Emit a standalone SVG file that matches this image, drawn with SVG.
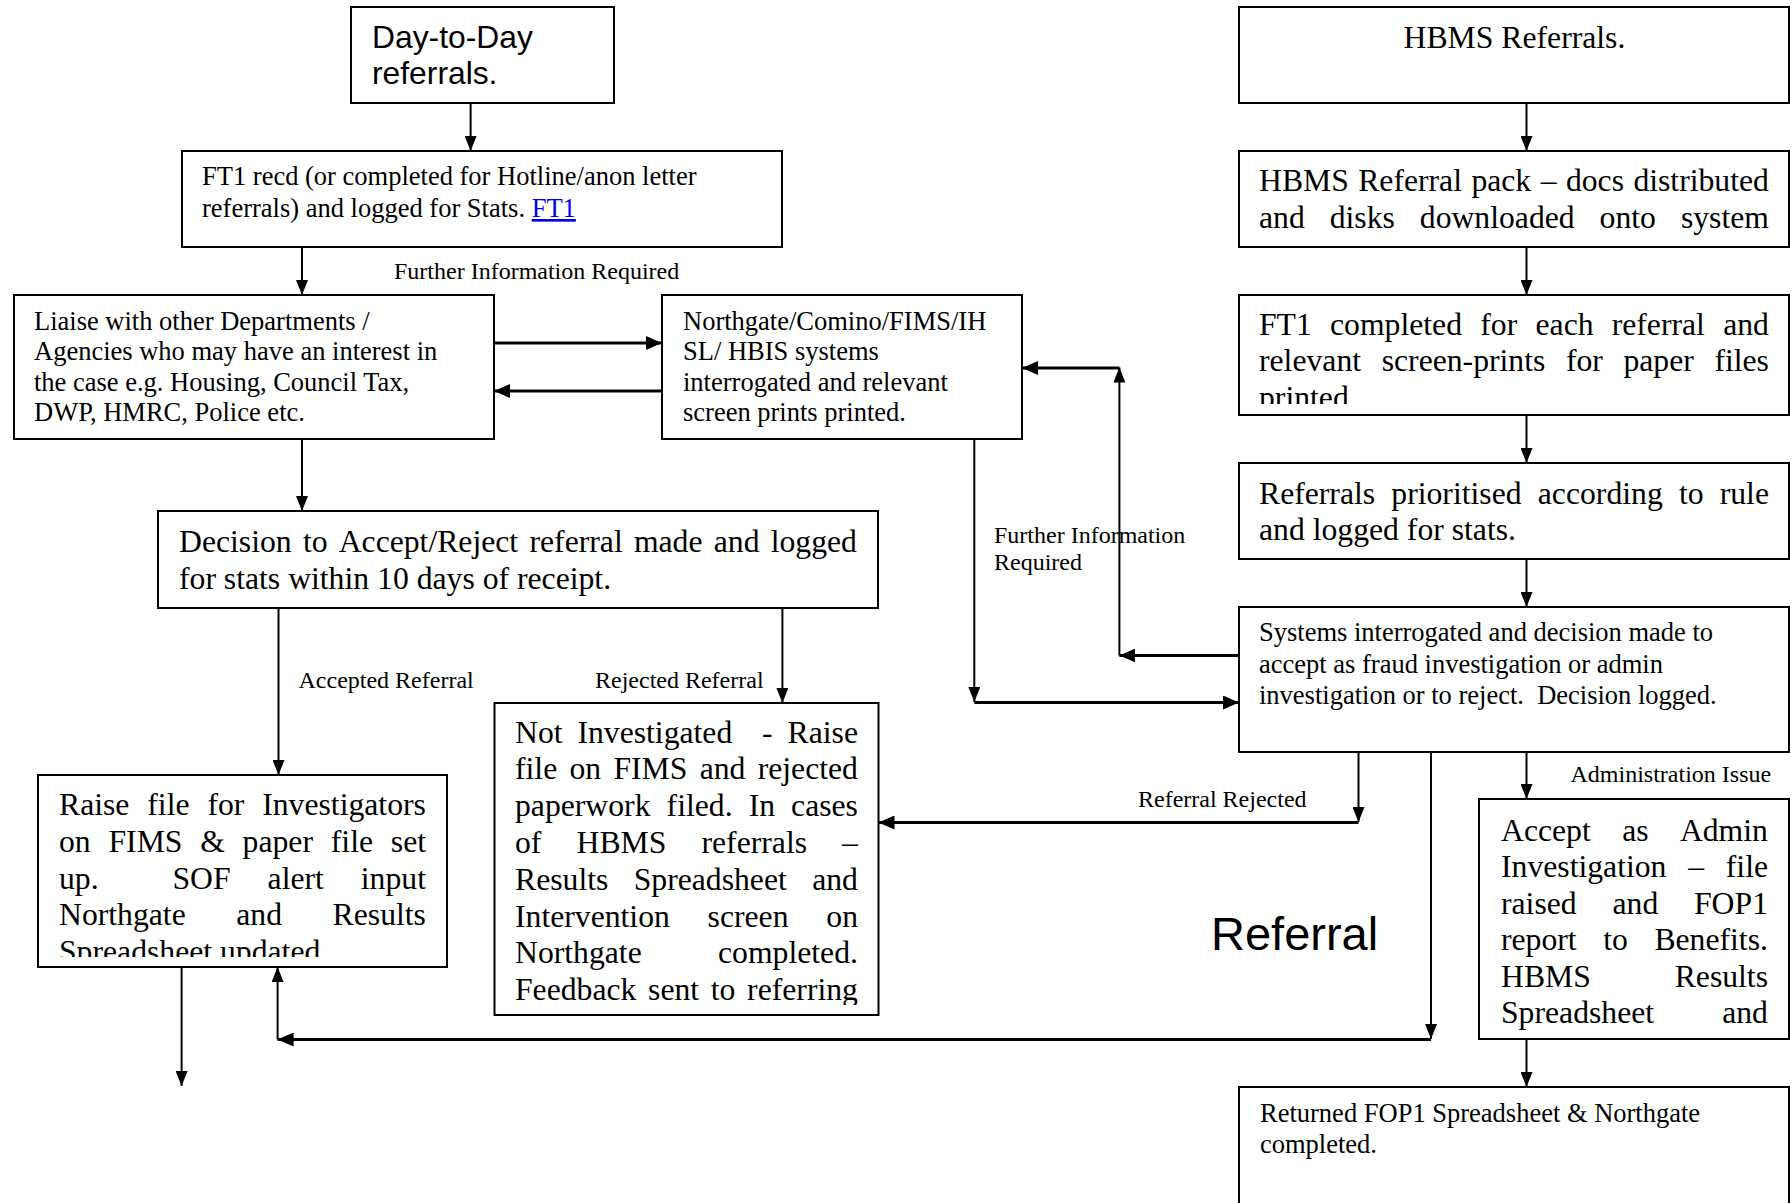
<svg xmlns="http://www.w3.org/2000/svg" width="1791" height="1203" viewBox="0 0 1791 1203">
<style>
.box{fill:#fff;stroke:#000;stroke-width:2}
.t{font-family:"Liberation Serif","Times New Roman",serif;fill:#000}
.big{font-size:31.7px}
.sm{font-size:26.5px}
.lbl{font-size:24px}
.sans{font-family:"Liberation Sans",Arial,sans-serif;fill:#000}
.c{fill:none;stroke:#000;stroke-width:2}
.ct{fill:none;stroke:#000;stroke-width:2.8}
.lnk{fill:#0000ee;text-decoration:underline}
</style>
<defs>
<marker id="ah" viewBox="0 0 15 12" refX="15" refY="6" markerWidth="15" markerHeight="12" markerUnits="userSpaceOnUse" orient="auto"><path d="M0,0 L15,6 L0,12 z" fill="#000"/></marker>
<marker id="aht" viewBox="0 0 16 14" refX="16" refY="7" markerWidth="16" markerHeight="14" markerUnits="userSpaceOnUse" orient="auto"><path d="M0,0 L16,7 L0,14 z" fill="#000"/></marker>
<clipPath id="clipFt1c"><rect x="1239" y="295" width="550" height="109"/></clipPath>
<clipPath id="clipRaise"><rect x="38" y="775" width="409" height="182"/></clipPath>
<clipPath id="clipNot"><rect x="494" y="703" width="384" height="302"/></clipPath>
</defs>

<g id="day">
<rect class="box" x="351" y="7" width="263" height="96"/>
<text class="sans" font-size="31.8" x="372" y="47.5">Day-to-Day</text>
<text class="sans" font-size="31.8" x="372" y="83.5">referrals.</text>
</g>

<g id="ft1recd">
<rect class="box" x="182" y="151" width="600" height="96"/>
<text class="t sm" x="202" y="185">FT1 recd (or completed for Hotline/anon letter</text>
<text class="t sm" x="202" y="217">referrals) and logged for Stats. <tspan class="lnk">FT1</tspan></text>
</g>

<g id="liaise">
<rect class="box" x="14" y="295" width="480" height="144"/>
<text class="t sm" x="34" y="329.5">Liaise with other Departments /</text>
<text class="t sm" x="34" y="360">Agencies who may have an interest in</text>
<text class="t sm" x="34" y="390.5">the case e.g. Housing, Council Tax,</text>
<text class="t sm" x="34" y="421">DWP, HMRC, Police etc.</text>
</g>

<g id="northgate">
<rect class="box" x="662" y="295" width="360" height="144"/>
<text class="t sm" x="683" y="329.5">Northgate/Comino/FIMS/IH</text>
<text class="t sm" x="683" y="360">SL/ HBIS systems</text>
<text class="t sm" x="683" y="390.5">interrogated and relevant</text>
<text class="t sm" x="683" y="421">screen prints printed.</text>
</g>

<g id="decision">
<rect class="box" x="158" y="511" width="720" height="97"/>
<text class="t big" y="552"><tspan x="179">Decision</tspan><tspan x="302.9">to</tspan><tspan x="338.7">Accept/Reject</tspan><tspan x="529.5">referral</tspan><tspan x="633.9">made</tspan><tspan x="713.8">and</tspan><tspan x="770.7">logged</tspan></text>
<text class="t big" x="179" y="588.5">for stats within 10 days of receipt.</text>
</g>

<g id="raise">
<rect class="box" x="38" y="775" width="409" height="192"/>
<g clip-path="url(#clipRaise)">
<text class="t big" y="815"><tspan x="59">Raise</tspan><tspan x="147.3">file</tspan><tspan x="207.4">for</tspan><tspan x="262.2">Investigators</tspan></text>
<text class="t big" y="851.8"><tspan x="59">on</tspan><tspan x="108.5">FIMS</tspan><tspan x="200.2">&amp;</tspan><tspan x="242.6">paper</tspan><tspan x="330.8">file</tspan><tspan x="390.8">set</tspan></text>
<text class="t big" y="888.6"><tspan x="59">up.</tspan><tspan x="172.5">SOF</tspan><tspan x="267.6">alert</tspan><tspan x="360.8">input</tspan></text>
<text class="t big" y="925.4"><tspan x="59">Northgate</tspan><tspan x="236.3">and</tspan><tspan x="332.6">Results</tspan></text>
<text class="t big" x="59" y="962.2">Spreadsheet updated</text>
</g>
</g>

<g id="notinvestigated">
<rect class="box" x="494.5" y="703" width="384" height="312"/>
<g clip-path="url(#clipNot)">
<text class="t big" y="742.5"><tspan x="515">Not</tspan><tspan x="577.4">Investigated</tspan><tspan x="762.1">-</tspan><tspan x="787.6">Raise</tspan></text>
<text class="t big" y="779.3"><tspan x="515">file</tspan><tspan x="569.5">on</tspan><tspan x="613.4">FIMS</tspan><tspan x="699.7">and</tspan><tspan x="757.7">rejected</tspan></text>
<text class="t big" y="816.1"><tspan x="515">paperwork</tspan><tspan x="666.6">filed.</tspan><tspan x="748.7">In</tspan><tspan x="791.1">cases</tspan></text>
<text class="t big" y="852.9"><tspan x="515">of</tspan><tspan x="576.5">HBMS</tspan><tspan x="701.5">referrals</tspan><tspan x="842.1">–</tspan></text>
<text class="t big" y="889.7"><tspan x="515">Results</tspan><tspan x="633.7">Spreadsheet</tspan><tspan x="812.2">and</tspan></text>
<text class="t big" y="926.5"><tspan x="515">Intervention</tspan><tspan x="707.6">screen</tspan><tspan x="826.3">on</tspan></text>
<text class="t big" y="963.3"><tspan x="515">Northgate</tspan><tspan x="718">completed.</tspan></text>
<text class="t big" y="1000.1"><tspan x="515">Feedback</tspan><tspan x="648.1">sent</tspan><tspan x="710.8">to</tspan><tspan x="747.1">referring</tspan></text>
</g>
</g>

<g id="hbms">
<rect class="box" x="1239" y="7" width="550" height="96"/>
<text class="t big" x="1514.5" y="48" text-anchor="middle">HBMS Referrals.</text>
</g>

<g id="pack">
<rect class="box" x="1239" y="151" width="550" height="96"/>
<text class="t big" y="191"><tspan x="1259">HBMS</tspan><tspan x="1358.2">Referral</tspan><tspan x="1471.4">pack</tspan><tspan x="1540.7">–</tspan><tspan x="1565.9">docs</tspan><tspan x="1633.4">distributed</tspan></text>
<text class="t big" y="228"><tspan x="1259">and</tspan><tspan x="1329.7">disks</tspan><tspan x="1419.8">downloaded</tspan><tspan x="1599.6">onto</tspan><tspan x="1680.9">system</tspan></text>
</g>

<g id="ft1completed">
<rect class="box" x="1239" y="295" width="550" height="120"/>
<g clip-path="url(#clipFt1c)">
<text class="t big" y="334.5"><tspan x="1259">FT1</tspan><tspan x="1330">completed</tspan><tspan x="1480.3">for</tspan><tspan x="1535.5">each</tspan><tspan x="1611.7">referral</tspan><tspan x="1723.2">and</tspan></text>
<text class="t big" y="371.3"><tspan x="1259">relevant</tspan><tspan x="1381.7">screen-prints</tspan><tspan x="1565.9">for</tspan><tspan x="1623.4">paper</tspan><tspan x="1714.4">files</tspan></text>
<text class="t big" x="1259" y="408.1">printed.</text>
</g>
</g>

<g id="prioritised">
<rect class="box" x="1239" y="463" width="550" height="96"/>
<text class="t big" y="503.5"><tspan x="1259">Referrals</tspan><tspan x="1391.3">prioritised</tspan><tspan x="1537.8">according</tspan><tspan x="1678.9">to</tspan><tspan x="1719.7">rule</tspan></text>
<text class="t big" x="1259" y="540.3">and logged for stats.</text>
</g>

<g id="systems">
<rect class="box" x="1239" y="607" width="550" height="145"/>
<text class="t sm" x="1259" y="641">Systems interrogated and decision made to</text>
<text class="t sm" x="1259" y="672.5">accept as fraud investigation or admin</text>
<text class="t sm" x="1259" y="704" xml:space="preserve">investigation or to reject.  Decision logged.</text>
</g>

<g id="accept">
<rect class="box" x="1479" y="799" width="310" height="240"/>
<text class="t big" y="841"><tspan x="1501">Accept</tspan><tspan x="1622.2">as</tspan><tspan x="1679.9">Admin</tspan></text>
<text class="t big" y="877.4"><tspan x="1501">Investigation</tspan><tspan x="1688.2">–</tspan><tspan x="1725.8">file</tspan></text>
<text class="t big" y="913.8"><tspan x="1501">raised</tspan><tspan x="1612.5">and</tspan><tspan x="1694">FOP1</tspan></text>
<text class="t big" y="950.2"><tspan x="1501">report</tspan><tspan x="1603.2">to</tspan><tspan x="1654.4">Benefits.</tspan></text>
<text class="t big" y="986.6"><tspan x="1501">HBMS</tspan><tspan x="1674.7">Results</tspan></text>
<text class="t big" y="1023"><tspan x="1501">Spreadsheet</tspan><tspan x="1722.2">and</tspan></text>
</g>

<g id="returned">
<rect class="box" x="1239" y="1087" width="550" height="130"/>
<text class="t sm" x="1260" y="1122">Returned FOP1 Spreadsheet &amp; Northgate</text>
<text class="t sm" x="1260" y="1153">completed.</text>
</g>

<g id="referral-title">
<text class="sans" font-size="47" x="1211" y="950">Referral</text>
</g>

<g id="labels">
<text class="t lbl" x="394" y="279">Further Information Required</text>
<text class="t lbl" x="298.5" y="687.5">Accepted Referral</text>
<text class="t lbl" x="595" y="687.5">Rejected Referral</text>
<text class="t lbl" x="994" y="542.5">Further Information</text>
<text class="t lbl" x="994" y="570">Required</text>
<text class="t lbl" x="1138" y="807">Referral Rejected</text>
<text class="t lbl" x="1570.5" y="782">Administration Issue</text>
</g>

<g id="connectors">
<path class="c" d="M470.6,103 V151" marker-end="url(#ah)"/>
<path class="c" d="M302,247 V295" marker-end="url(#ah)"/>
<path class="ct" d="M494,343 H662" marker-end="url(#aht)"/>
<path class="ct" d="M662,391 H494" marker-end="url(#aht)"/>
<path class="c" d="M302,439 V511" marker-end="url(#ah)"/>
<path class="c" d="M278.5,608 V775" marker-end="url(#ah)"/>
<path class="c" d="M782.4,608 V703" marker-end="url(#ah)"/>
<path class="c" d="M974.3,439 V702" marker-end="url(#ah)"/>
<path class="ct" d="M974.3,702.5 H1239" marker-end="url(#aht)"/>
<path class="ct" d="M1239,655.5 H1119.4" marker-end="url(#aht)"/>
<path class="c" d="M1119.4,655.5 V367.5" marker-end="url(#ah)"/>
<path class="ct" d="M1119.4,368 H1022" marker-end="url(#aht)"/>
<path class="c" d="M1526.5,103 V151" marker-end="url(#ah)"/>
<path class="c" d="M1526.5,247 V295" marker-end="url(#ah)"/>
<path class="c" d="M1526.5,415 V463" marker-end="url(#ah)"/>
<path class="c" d="M1526.5,559 V607" marker-end="url(#ah)"/>
<path class="c" d="M1526.5,752 V799" marker-end="url(#ah)"/>
<path class="c" d="M1526.5,1039 V1087" marker-end="url(#ah)"/>
<path class="c" d="M1358.5,752 V822" marker-end="url(#ah)"/>
<path class="ct" d="M1358.5,822.5 H878.5" marker-end="url(#aht)"/>
<path class="c" d="M1431,752 V1039" marker-end="url(#ah)"/>
<path class="ct" d="M1431,1039.5 H277.6" marker-end="url(#aht)"/>
<path class="c" d="M277.6,1039.5 V967" marker-end="url(#ah)"/>
<path class="c" d="M181.6,967 V1086" marker-end="url(#ah)"/>
</g>
</svg>
